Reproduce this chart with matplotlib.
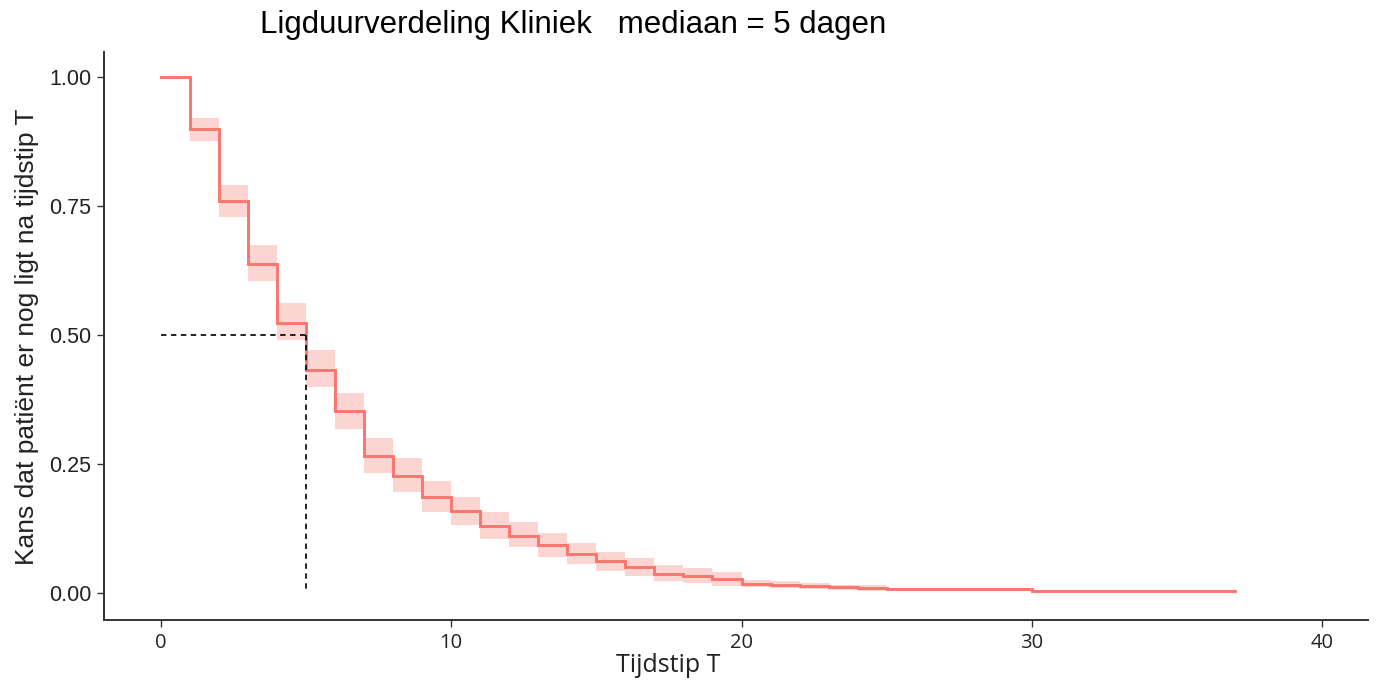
import matplotlib
matplotlib.use("Agg")
import matplotlib.pyplot as plt

# Kaplan-Meier ligduur kliniek
times = [0, 1, 2, 3, 4, 5, 6, 7, 8, 9, 10, 11, 12, 13, 14, 15, 16, 17, 18, 19,
         20, 21, 22, 23, 24, 25, 30, 37]
surv = [1.000, 0.899, 0.760, 0.639, 0.524, 0.433, 0.354, 0.265, 0.228, 0.187,
        0.160, 0.131, 0.111, 0.094, 0.076, 0.062, 0.050, 0.038, 0.034, 0.027,
        0.018, 0.016, 0.014, 0.011, 0.010, 0.008, 0.005, 0.005]
lower = [1.000, 0.876, 0.729, 0.605, 0.490, 0.399, 0.318, 0.233, 0.196, 0.157,
         0.132, 0.105, 0.089, 0.070, 0.056, 0.043, 0.034, 0.024, 0.020, 0.014,
         0.011, 0.010, 0.008, 0.006, 0.005, 0.008, 0.005, 0.005]
upper = [1.000, 0.922, 0.791, 0.674, 0.562, 0.471, 0.388, 0.300, 0.262, 0.217,
         0.186, 0.157, 0.138, 0.116, 0.097, 0.080, 0.068, 0.054, 0.049, 0.041,
         0.026, 0.023, 0.020, 0.016, 0.015, 0.008, 0.005, 0.005]
median = 5
x_ticks = [0, 10, 20, 30, 40]
y_ticks = [0.00, 0.25, 0.50, 0.75, 1.00]

title = "Ligduurverdeling Kliniek   mediaan = 5 dagen"
xlab = "Tijdstip T"
ylab = "Kans dat patiënt er nog ligt na tijdstip T"

red = "#F8766D"
x_font = ["Open Sans", "DejaVu Sans"]
y_font = ["Liberation Sans", "DejaVu Sans"]

W, H = 1382, 681
fig = plt.figure(figsize=(W / 100, H / 100), dpi=100)
ax = fig.add_axes([104 / W, 1 - 620 / H, (1368 - 104) / W, (620 - 52) / H])

ax.fill_between(times, lower, upper, step="post", color=red, alpha=0.3, lw=0)
ax.step(times, surv, where="post", color=red, lw=2.1, solid_joinstyle="miter")

# median lines
ax.plot([0, median], [0.5, 0.5], color="#111111", ls=(0, (3, 2.5)), lw=1.3)
ax.plot([median, median], [0.5, 0], color="#111111", ls=(0, (3, 2.5)), lw=1.3)

ax.set_xlim(-1.96, 41.58)
ax.set_ylim(-0.052, 1.049)
ax.set_xticks(x_ticks)
ax.set_yticks(y_ticks)
ax.set_xticklabels([str(v) for v in x_ticks], family=x_font, fontsize=14.5, color="#222222")
ax.set_yticklabels([f"{v:.2f}" for v in y_ticks], family=y_font, fontsize=15.5, color="#222222")
ax.tick_params(direction="out", length=5, width=1.0, color="#333333", pad=4)

for s in ["top", "right"]:
    ax.spines[s].set_visible(False)
for s in ["left", "bottom"]:
    ax.spines[s].set_color("#333333")
    ax.spines[s].set_linewidth(1.4)

fig.text(668 / W, 1 - 666 / H, xlab, ha="center", va="center",
         family=x_font, fontsize=18, color="#222222")
fig.text(27 / W, 1 - 337 / H, ylab, ha="center", va="center", rotation=90,
         family=y_font, fontsize=19, color="#222222")
fig.text(573 / W, 1 - 25 / H, title, ha="center", va="center",
         family=y_font, fontsize=22.5, color="black")

fig.savefig("out.png", dpi=100)
